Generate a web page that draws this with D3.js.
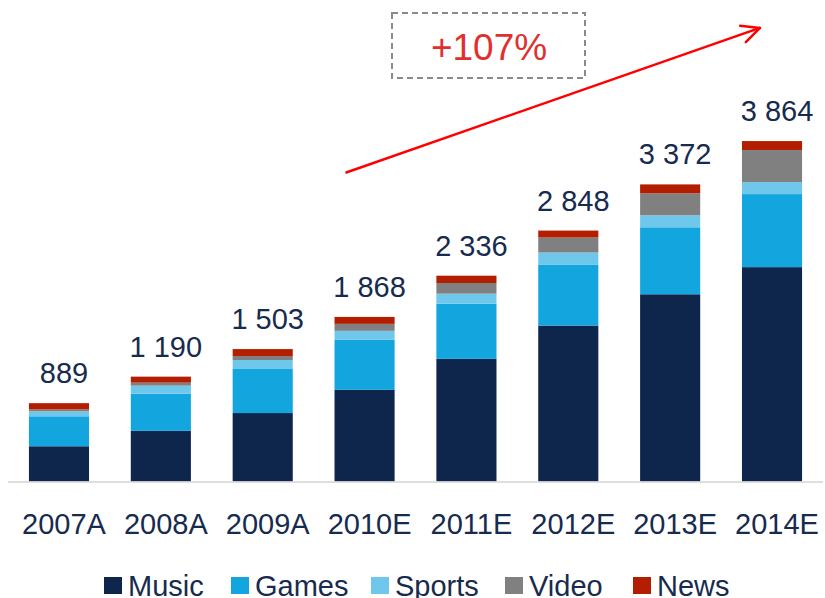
<!DOCTYPE html>
<html>
<head>
<meta charset="utf-8">
<script src="https://cdn.jsdelivr.net/npm/d3@7"></script>
<style>
  html, body { margin: 0; padding: 0; background: #fff; }
  svg { display: block; font-family: "Liberation Sans", Arial, sans-serif; }
</style>
</head>
<body>
<script>
// datos
var anios  = ["2007A", "2008A", "2009A", "2010E", "2011E", "2012E", "2013E", "2014E"];
var series = ["Music", "Games", "Sports", "Video", "News"];
var music  = [400, 575, 777, 1040, 1392, 1770, 2125, 2433];
var games  = [340, 422, 500, 568, 626, 693, 760, 829];
var sports = [56, 91, 102, 102, 114, 136, 136, 136];
var video  = [22, 34, 45, 79, 121, 170, 250, 364];
var news   = [71, 68, 79, 79, 83, 79, 101, 102];
var crecimiento = "+107%";

var colores = ["#0f264c", "#13a5dd", "#6fc8eb", "#808080", "#b31e00"];
var colorTexto = "#172b4f";

var svgW = 825;
var svgH = 598;
var ejeY0 = 481.5;

var tabla = anios.map(function(a, i) {
    return { anio: a, Music: music[i], Games: games[i], Sports: sports[i], Video: video[i], News: news[i] };
});

var svg = d3.select("body").append("svg")
    .attr("width", svgW)
    .attr("height", svgH);

var xScale = d3.scaleBand()
    .domain(anios)
    .range([8, 823])
    .paddingInner(0.41)
    .paddingOuter(0.2055);

var yScale = d3.scaleLinear()
    .domain([0, 5465])
    .range([ejeY0, 0]);

var pilas = d3.stack().keys(series)(tabla);

// barras apiladas
svg.selectAll("g.serie")
    .data(pilas)
    .enter()
    .append("g")
    .attr("class", "serie")
    .attr("fill", function(d, i) { return colores[i]; })
    .selectAll("rect")
    .data(function(d) { return d; })
    .enter()
    .append("rect")
    .attr("x", function(d) { return xScale(d.data.anio); })
    .attr("y", function(d) { return yScale(d[1]); })
    .attr("height", function(d) { return yScale(d[0]) - yScale(d[1]); })
    .attr("width", xScale.bandwidth());

// linea base
svg.append("line")
    .attr("x1", 8).attr("x2", 823)
    .attr("y1", ejeY0 + 0.5).attr("y2", ejeY0 + 0.5)
    .attr("stroke", "#d4d4d4")
    .attr("stroke-width", 1.5);

// eje x
var xAxis = d3.axisBottom(xScale).tickSize(0).tickPadding(0);
var gx = svg.append("g")
    .attr("transform", "translate(5," + ejeY0 + ")")
    .call(xAxis);
gx.select(".domain").remove();
gx.selectAll("text")
    .attr("y", 52.5)
    .attr("dy", null)
    .attr("fill", colorTexto)
    .style("font-size", "29px")
    .style("font-family", "'Liberation Sans', Arial, sans-serif");

// totales
var formato = d3.formatLocale({ thousands: " ", grouping: [3], decimal: ",", currency: ["", ""] }).format(",d");
svg.selectAll("text.total")
    .data(tabla)
    .enter()
    .append("text")
    .attr("class", "total")
    .attr("x", function(d) { return xScale(d.anio) + xScale.bandwidth() / 2 + 5; })
    .attr("y", function(d) { return yScale(d3.sum(series, function(k) { return d[k]; })) - 20; })
    .attr("text-anchor", "middle")
    .attr("fill", colorTexto)
    .style("font-size", "29px")
    .text(function(d) { return formato(d3.sum(series, function(k) { return d[k]; })); });

// flecha de crecimiento
var xIni = xScale("2010E") + 11;
var yIni = yScale(3504);
var xFin = xScale("2014E") + 18;
var yFin = yScale(5148);
svg.append("line")
    .attr("x1", xIni).attr("y1", yIni)
    .attr("x2", xFin).attr("y2", yFin)
    .attr("stroke", "#ff0000")
    .attr("stroke-width", 2.5);
var ang = Math.atan2(yFin - yIni, xFin - xIni);
var largo = 20;
[-0.45, 0.45].forEach(function(a) {
    svg.append("line")
        .attr("x1", xFin).attr("y1", yFin)
        .attr("x2", xFin - largo * Math.cos(ang + a))
        .attr("y2", yFin - largo * Math.sin(ang + a))
        .attr("stroke", "#ff0000")
        .attr("stroke-width", 2.5)
        .attr("stroke-linecap", "round");
});

// caja +107%
svg.append("rect")
    .attr("x", 392).attr("y", 13)
    .attr("width", 193).attr("height", 65)
    .attr("fill", "none")
    .attr("stroke", "#8a8a8a")
    .attr("stroke-width", 2)
    .attr("stroke-dasharray", "6,4");
svg.append("text")
    .attr("x", 489).attr("y", 60)
    .attr("text-anchor", "middle")
    .attr("fill", "#e0302e")
    .style("font-size", "37px")
    .text(crecimiento);

// leyenda (posiciones de cada cuadro)
var posLeyenda = [104, 231, 371, 505, 633];
var leyenda = svg.append("g").attr("class", "leyenda");
series.forEach(function(s, i) {
    leyenda.append("rect")
        .attr("x", posLeyenda[i]).attr("y", 577)
        .attr("width", 18).attr("height", 17)
        .attr("fill", colores[i]);
    leyenda.append("text")
        .attr("x", posLeyenda[i] + 24).attr("y", 595.5)
        .attr("fill", colorTexto)
        .style("font-size", "29px")
        .text(s);
});
</script>
</body>
</html>
